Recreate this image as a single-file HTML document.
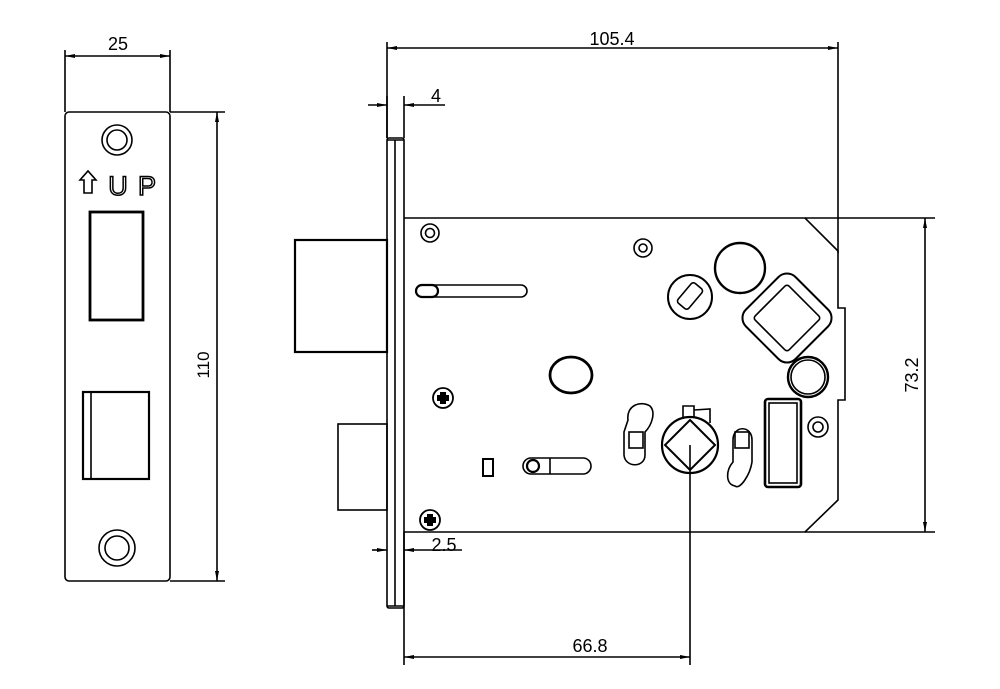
<!DOCTYPE html>
<html><head><meta charset="utf-8"><style>
html,body{margin:0;padding:0;background:#fff;width:1000px;height:689px;overflow:hidden}
svg{display:block}
text{font-family:"Liberation Sans",sans-serif;fill:#000}
</style></head><body>
<svg width="1000" height="689" viewBox="0 0 1000 689" xmlns="http://www.w3.org/2000/svg">
<defs>
<marker id="a" viewBox="0 0 10 4" refX="10" refY="2" markerWidth="10" markerHeight="4" orient="auto-start-reverse" markerUnits="userSpaceOnUse"><path d="M0,0 L10,2 L0,4 Z" fill="#000"/></marker>
</defs>
<g fill="none" stroke="#000" stroke-width="1.6">
<!-- LEFT FACEPLATE -->
<rect x="65" y="112" width="105" height="469" rx="4"/>
<line x1="65" y1="50" x2="65" y2="112"/><line x1="170" y1="50" x2="170" y2="112"/>
<line x1="65" y1="56" x2="170" y2="56" marker-start="url(#a)" marker-end="url(#a)"/>
<line x1="170" y1="112" x2="225" y2="112"/><line x1="170" y1="581" x2="225" y2="581"/>
<line x1="217" y1="112" x2="217" y2="581" marker-start="url(#a)" marker-end="url(#a)"/>
<circle cx="117" cy="140" r="15"/><circle cx="117" cy="140" r="10"/>
<circle cx="117" cy="548" r="18"/><circle cx="117" cy="548" r="12"/>
<rect x="90" y="212" width="53" height="108" stroke-width="2.8"/>
<rect x="83" y="392" width="66" height="87" stroke-width="2.2"/>
<line x1="91" y1="392" x2="91" y2="479"/>
<path d="M84,193 V180 H80 L88,171 L96,180 H92 V193 Z" stroke-width="1.6"/>
<!-- bolts -->
<rect x="295" y="240" width="92" height="112" stroke-width="2.2"/>
<rect x="338" y="424" width="49" height="86"/>
<!-- faceplate side -->
<rect x="387" y="138" width="17" height="470" rx="2"/>
<line x1="395" y1="140" x2="395" y2="606"/>
<line x1="387" y1="140" x2="404" y2="140"/><line x1="387" y1="606" x2="404" y2="606"/>
<!-- case -->
<path d="M404,218 H805 L838,251 V308 H845 V400 H838 V500 L805,532 H404"/>
<line x1="805" y1="218" x2="935" y2="218"/><line x1="805" y1="532" x2="935" y2="532"/>
<line x1="925" y1="218" x2="925" y2="532" marker-start="url(#a)" marker-end="url(#a)"/>
<!-- 105.4 -->
<line x1="387" y1="42" x2="387" y2="138"/><line x1="838" y1="42" x2="838" y2="253"/>
<line x1="387" y1="48" x2="838" y2="48" marker-start="url(#a)" marker-end="url(#a)"/>
<!-- 4 -->
<line x1="387" y1="96" x2="387" y2="138"/><line x1="404" y1="96" x2="404" y2="138"/>
<line x1="368" y1="105" x2="387" y2="105" marker-end="url(#a)"/>
<line x1="445" y1="105" x2="404" y2="105" marker-end="url(#a)"/>
<!-- 2.5 -->
<line x1="372" y1="550" x2="387" y2="550" marker-end="url(#a)"/>
<line x1="462" y1="550" x2="404" y2="550" marker-end="url(#a)"/>
<line x1="404" y1="532" x2="404" y2="665"/>
<!-- 66.8 -->
<line x1="690" y1="445" x2="690" y2="665"/>
<line x1="404" y1="657" x2="690" y2="657" marker-start="url(#a)" marker-end="url(#a)"/>
<!-- case details -->
<circle cx="430" cy="233" r="9"/><circle cx="430" cy="233" r="4.5"/>
<rect x="416" y="285" width="111" height="12" rx="6"/>
<rect x="416" y="285" width="22" height="12" rx="6" stroke-width="2.2"/>
<circle cx="443" cy="398" r="10" stroke-width="1.8"/>
<path d="M440,392h6v3h3v6h-3v3h-6v-3h-3v-6h3z" fill="#000" stroke="none"/>
<circle cx="430" cy="520" r="10" stroke-width="1.8"/>
<path d="M427,514h6v3h3v6h-3v3h-6v-3h-3v-6h3z" fill="#000" stroke="none"/>
<ellipse cx="571" cy="375" rx="21" ry="18" stroke-width="2.8"/>
<rect x="483" y="459" width="10" height="17" stroke-width="2"/>
<rect x="523" y="458" width="68" height="16" rx="8"/>
<circle cx="533" cy="466" r="6" stroke-width="2.2"/><line x1="550" y1="458" x2="550" y2="474"/>
<circle cx="643" cy="248" r="9"/><circle cx="643" cy="248" r="4"/>
<circle cx="690" cy="297" r="22" stroke-width="2"/>
<rect x="677" y="289" width="26" height="14" rx="3" transform="rotate(-50 690 296)"/>
<circle cx="740" cy="268" r="25" stroke-width="2.4"/>
<rect x="752" y="283" width="70" height="70" rx="12" transform="rotate(45 787 318)" stroke-width="2"/>
<rect x="763" y="294" width="48" height="48" rx="3" transform="rotate(45 787 318)" stroke-width="1.6"/>
<circle cx="808" cy="377" r="20" stroke-width="2.4"/><circle cx="808" cy="377" r="17"/>
<circle cx="690" cy="445" r="28" stroke-width="2.2"/>
<path d="M690,420 L715,445 L690,470 L665,445 Z" stroke-width="2"/>
<path d="M683,418 V406 H694 V418 M694,410 L710,409 L710,423" stroke-width="1.6"/>
<rect x="765" y="399" width="36" height="88" rx="3" stroke-width="2.6"/>
<rect x="769" y="403" width="28" height="80"/>
<circle cx="818" cy="427" r="10"/><circle cx="818" cy="427" r="5"/>
<path d="M628,420 C626,406 640,400 650,406 C656,412 652,425 645,432 L645,455 C645,468 625,468 624,455 L624,432 Z" stroke-width="1.6"/>
<rect x="629" y="432" width="14" height="16"/>
<path d="M733,440 C733,425 752,425 752,440 L752,462 C750,475 740,490 735,486 C725,484 726,470 733,462 Z" stroke-width="1.6"/>
<rect x="735" y="432" width="14" height="16"/>
</g>
<text x="118" y="50" font-size="18" text-anchor="middle">25</text>
<text x="118" y="195" font-size="27" text-anchor="middle" style="fill:#fff;stroke:#000;stroke-width:1.5px">U</text>
<text x="147" y="195" font-size="27" text-anchor="middle" style="fill:#fff;stroke:#000;stroke-width:1.5px">P</text>
<text transform="translate(209,365) rotate(-90)" font-size="17" text-anchor="middle">110</text>
<text x="612" y="45" font-size="18" text-anchor="middle">105.4</text>
<text x="436" y="102" font-size="18" text-anchor="middle">4</text>
<text x="444" y="551" font-size="18" text-anchor="middle">2.5</text>
<text x="590" y="652" font-size="18" text-anchor="middle">66.8</text>
<text transform="translate(918,375) rotate(-90)" font-size="18" text-anchor="middle">73.2</text>
</svg>
</body></html>
